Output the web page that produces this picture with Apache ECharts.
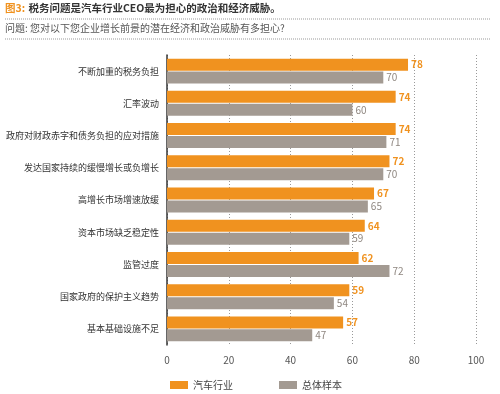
<!DOCTYPE html>
<html>
<head>
<meta charset="utf-8">
<script src="https://cdn.jsdelivr.net/npm/echarts@6/dist/echarts.min.js"></script>
<style>
  html, body { margin: 0; padding: 0; background: #fff; }
  #chart { width: 500px; height: 394px; }
</style>
</head>
<body>
<div id="chart"></div>
<script>
// 数据
var categories = ['不断加重的税务负担', '汇率波动', '政府对财政赤字和债务负担的应对措施', '发达国家持续的缓慢增长或负增长',
  '高增长市场增速放缓', '资本市场缺乏稳定性', '监管过度', '国家政府的保护主义趋势', '基本基础设施不足']
var autoData = [78, 74, 74, 72, 67, 64, 62, 59, 57]
var totalData = [70, 60, 71, 70, 65, 59, 72, 54, 47]
var seriesNames = ['汽车行业', '总体样本']
var xTicks = [0, 20, 40, 60, 80, 100]

var ORANGE = '#f0921f'
var GRAY = '#a39a92'
var FONT = '"Noto Sans CJK SC", sans-serif'

var chart = echarts.init(document.getElementById('chart'))

chart.setOption({
  animation: false,
  textStyle: { fontFamily: FONT },
  grid: {
    left: 167,
    right: 24,
    top: 55,
    bottom: 49,
    outerBoundsMode: 'none'
  },
  legend: {
    left: 165,
    top: 375,
    itemWidth: 18,
    itemHeight: 8,
    itemGap: 46,
    icon: 'rect',
    textStyle: { fontSize: 10, color: '#444', fontFamily: FONT },
    data: seriesNames
  },
  graphic: [
    {
      type: 'text', left: 5, top: 2,
      style: {
        text: '{o|图3:} {b|税务问题是汽车行业CEO最为担心的政治和经济威胁。}',
        rich: {
          o: { fill: ORANGE, fontSize: 10.5, fontWeight: 'bold', fontFamily: FONT },
          b: { fill: '#333', fontSize: 10.5, fontWeight: 'bold', fontFamily: FONT }
        }
      }
    },
    {
      type: 'line', shape: { x1: 5, y1: 19, x2: 490, y2: 19 },
      style: { stroke: '#999', lineWidth: 1, lineDash: [1, 1] }
    },
    {
      type: 'text', left: 5, top: 23,
      style: { text: '问题: 您对以下您企业增长前景的潜在经济和政治威胁有多担心?', fill: '#555', fontSize: 10, fontFamily: FONT }
    },
    {
      type: 'line', shape: { x1: 5, y1: 39, x2: 490, y2: 39 },
      style: { stroke: '#999', lineWidth: 1, lineDash: [1, 1] }
    }
  ],
  xAxis: {
    type: 'value',
    min: 0,
    max: 100,
    interval: 20,
    axisLine: { show: false },
    axisTick: { show: false },
    axisLabel: { color: '#555', fontSize: 10, margin: 10 },
    splitLine: { show: true, lineStyle: { color: '#999', type: [1, 2], width: 1 } }
  },
  yAxis: {
    type: 'category',
    inverse: true,
    data: categories,
    axisLine: { show: true, lineStyle: { color: '#333', width: 1.5 } },
    axisTick: { show: false },
    axisLabel: { color: '#333', fontSize: 9, margin: 8, padding: [0, 0, 13, 0] }
  },
  series: [
    {
      name: seriesNames[0],
      type: 'bar',
      data: autoData,
      barWidth: 12,
      barGap: '8%',
      itemStyle: { color: ORANGE },
      label: { show: true, position: 'right', distance: 3, color: ORANGE, fontSize: 10, fontWeight: 'bold' }
    },
    {
      name: seriesNames[1],
      type: 'bar',
      data: totalData,
      barWidth: 12,
      itemStyle: { color: GRAY },
      label: { show: true, position: 'right', distance: 3, color: '#8f8780', fontSize: 10 }
    }
  ]
})
</script>
</body>
</html>
